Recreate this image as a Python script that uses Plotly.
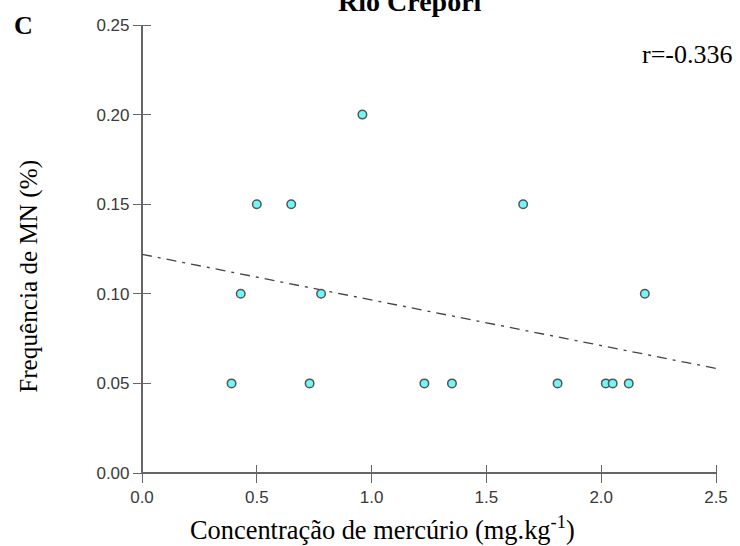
import numpy as np
import plotly.graph_objects as go

# Data
mercurio = [0.39, 0.43, 0.50, 0.65, 0.73, 0.78, 0.96, 1.23, 1.35, 1.66, 1.81, 2.02, 2.05, 2.12, 2.19]
freq_mn = [0.05, 0.10, 0.15, 0.15, 0.05, 0.10, 0.20, 0.05, 0.05, 0.15, 0.05, 0.05, 0.05, 0.05, 0.10]
x_ticks = [0.0, 0.5, 1.0, 1.5, 2.0, 2.5]
y_ticks = [0.00, 0.05, 0.10, 0.15, 0.20, 0.25]
r_text = "r=-0.336"
title_text = "Rio Crepori"
panel_label = "C"
x_title = "Concentração de mercúrio (mg.kg<sup>-1</sup>)"
y_title = "Frequência de MN (%)"

slope, intercept = np.polyfit(mercurio, freq_mn, 1)
line_x = [0.0, 2.5]
line_y = [intercept + slope * v for v in line_x]

serif = "Liberation Serif, Times New Roman, serif"
sans = "Liberation Sans, Arial, sans-serif"
axis_col = "#666666"

PLOT_W, PLOT_H = 578.0, 448.0
HALF_TICK = 9

fig = go.Figure()
fig.add_trace(go.Scatter(x=line_x, y=line_y, mode="lines",
                         line=dict(color="#444444", width=1.3, dash="10px,6px,3px,6px"),
                         showlegend=False, hoverinfo="skip"))
fig.add_trace(go.Scatter(x=mercurio, y=freq_mn, mode="markers",
                         marker=dict(symbol="circle", size=8.5, color="#6ff8f8",
                                     line=dict(color="#555555", width=1.5)),
                         showlegend=False))

# Axes are placed half a tick inside the plot so their (outside) ticks cross the
# frame; the frame lines themselves are the zero lines at x=0 and y=0.
fig.update_layout(
    width=740, height=546,
    margin=dict(l=142, r=20, t=25, b=73),
    paper_bgcolor="white", plot_bgcolor="white",
    xaxis=dict(range=[0, 2.5], tickvals=x_ticks, showgrid=False,
               zeroline=True, zerolinecolor=axis_col, zerolinewidth=1.5,
               anchor="free", position=HALF_TICK / PLOT_H,
               ticks="outside", ticklen=2 * HALF_TICK, tickcolor=axis_col, tickwidth=1.3,
               showline=False,
               tickformat=".1f", tickfont=dict(family=sans, size=17, color="#3a3a3a")),
    yaxis=dict(range=[0, 0.25], tickvals=y_ticks, showgrid=False,
               zeroline=True, zerolinecolor=axis_col, zerolinewidth=1.5,
               anchor="free", position=HALF_TICK / PLOT_W,
               ticks="outside", ticklen=2 * HALF_TICK, tickcolor=axis_col, tickwidth=1.3,
               showline=False,
               tickformat=".2f", tickfont=dict(family=sans, size=17, color="#3a3a3a")),
)

def px_x(p):
    return (p - 142) / PLOT_W

def px_y(p):
    return (473 - p) / PLOT_H

fig.add_annotation(text=x_title, xref="paper", yref="paper", x=px_x(384), y=px_y(528),
                   xanchor="center", yanchor="middle", showarrow=False,
                   font=dict(family=serif, size=26.4, color="black"))
fig.add_annotation(text=y_title, xref="paper", yref="paper", x=px_x(28), y=px_y(276),
                   xanchor="center", yanchor="middle", showarrow=False, textangle=-90,
                   font=dict(family=serif, size=25.2, color="black"))
fig.add_annotation(text=r_text, xref="paper", yref="paper", x=px_x(738), y=px_y(55),
                   xanchor="right", yanchor="middle", showarrow=False,
                   font=dict(family=serif, size=26, color="black"))
fig.add_annotation(text="<b>" + title_text + "</b>", xref="paper", yref="paper",
                   x=px_x(412), y=px_y(2), xanchor="center", yanchor="middle", showarrow=False,
                   font=dict(family=serif, size=28, color="black"))
fig.add_annotation(text="<b>" + panel_label + "</b>", xref="paper", yref="paper",
                   x=px_x(23), y=px_y(25), xanchor="center", yanchor="middle", showarrow=False,
                   font=dict(family=serif, size=26, color="black"))

fig.write_html("out.html")
